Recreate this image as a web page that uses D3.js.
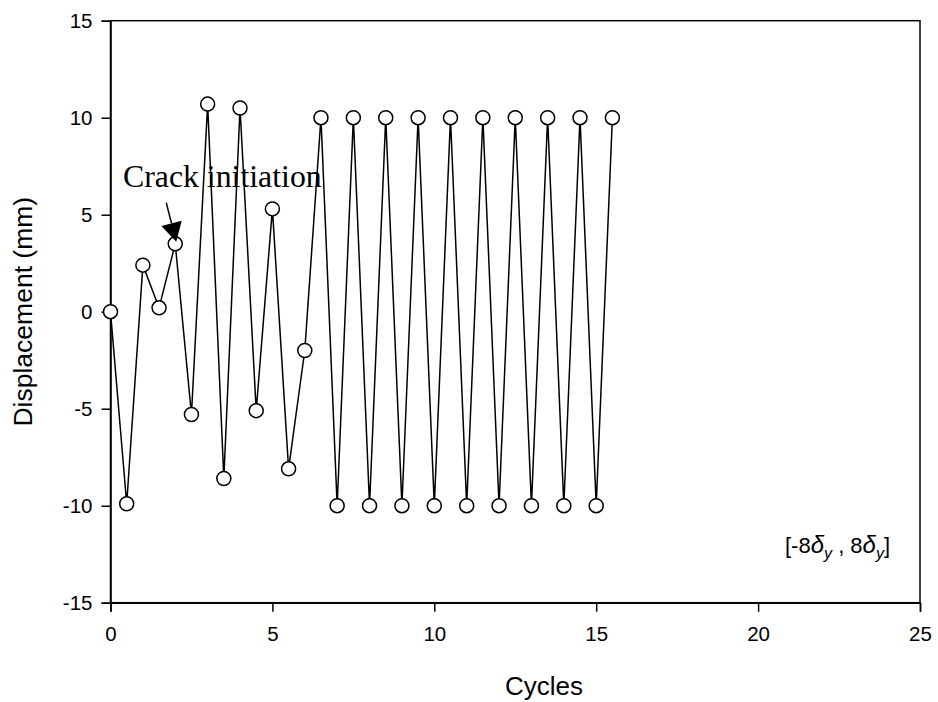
<!DOCTYPE html>
<html>
<head>
<meta charset="utf-8">
<script src="https://cdn.jsdelivr.net/npm/d3@7"></script>
<style>
  html, body { margin: 0; padding: 0; background: #fff; }
  svg { display: block; }
</style>
</head>
<body>
<svg id="chart" width="938" height="702"></svg>
<script>
// Loading history: displacement at each half cycle
const cycles = [0, 0.5, 1, 1.5, 2, 2.5, 3, 3.5, 4, 4.5, 5, 5.5, 6, 6.5, 7, 7.5, 8, 8.5, 9, 9.5,
                10, 10.5, 11, 11.5, 12, 12.5, 13, 13.5, 14, 14.5, 15, 15.5];
const displacement = [0, -9.9, 2.4, 0.2, 3.5, -5.3, 10.7, -8.6, 10.5, -5.1, 5.3, -8.1, -2.0, 10, -10, 10,
                      -10, 10, -10, 10, -10, 10, -10, 10, -10, 10, -10, 10, -10, 10, -10, 10];
const xTicks = [0, 5, 10, 15, 20, 25];
const yTicks = [-15, -10, -5, 0, 5, 10, 15];
const xDomain = [0, 25];
const yDomain = [-15, 15];
const crackCycle = 2;
const crackDisp = 3.5;

const svg = d3.select("#chart");
const plotLeft = 110.5, plotRight = 920, plotTop = 20.7, plotBottom = 602.7;

const x = d3.scaleLinear().domain(xDomain).range([plotLeft, plotRight]);
const y = d3.scaleLinear().domain(yDomain).range([plotBottom, plotTop]);

const points = cycles.map((c, i) => ({ c, d: displacement[i] }));
const plainNumber = d => String(d);   // hyphen-minus for negative ticks

// Frame
svg.append("rect")
  .attr("x", plotLeft).attr("y", plotTop)
  .attr("width", plotRight - plotLeft).attr("height", plotBottom - plotTop)
  .attr("fill", "none").attr("stroke", "#000").attr("stroke-width", 1.5);

// Axes
const xAxis = svg.append("g")
  .attr("transform", `translate(0,${plotBottom})`)
  .call(d3.axisBottom(x).tickValues(xTicks).tickFormat(plainNumber)
    .tickSizeOuter(0).tickSize(9).tickPadding(15));
const yAxis = svg.append("g")
  .attr("transform", `translate(${plotLeft},0)`)
  .call(d3.axisLeft(y).tickValues(yTicks).tickFormat(plainNumber)
    .tickSizeOuter(0).tickSize(9).tickPadding(9));

[xAxis, yAxis].forEach(g => {
  g.select(".domain").attr("stroke", "#000").attr("stroke-width", 1.5);
  g.selectAll(".tick line").attr("stroke", "#000").attr("stroke-width", 1.5);
  g.selectAll(".tick text")
    .attr("fill", "#000")
    .style("font-family", "'Liberation Sans', Arial, sans-serif")
    .style("font-size", "20.5px");
});

// Axis titles
svg.append("text")
  .attr("x", 544).attr("y", 695)
  .attr("text-anchor", "middle")
  .style("font-family", "'Liberation Sans', Arial, sans-serif")
  .style("font-size", "26px")
  .text("Cycles");

svg.append("text")
  .attr("transform", `translate(32,${(plotTop + plotBottom) / 2}) rotate(-90)`)
  .attr("text-anchor", "middle")
  .style("font-family", "'Liberation Sans', Arial, sans-serif")
  .style("font-size", "26.5px")
  .text("Displacement (mm)");

// Series line
svg.append("path")
  .datum(points)
  .attr("fill", "none")
  .attr("stroke", "#000")
  .attr("stroke-width", 1.5)
  .attr("d", d3.line().x(p => x(p.c)).y(p => y(p.d)));

// Markers
svg.append("g").selectAll("circle")
  .data(points)
  .join("circle")
  .attr("cx", p => x(p.c))
  .attr("cy", p => y(p.d))
  .attr("r", 7)
  .attr("fill", "#fff")
  .attr("stroke", "#000")
  .attr("stroke-width", 1.5);

// Crack initiation annotation
const tipX = x(crackCycle) + 1, tipY = y(crackDisp) - 2;
const startX = tipX - 10, startY = tipY - 39;
const ang = Math.atan2(tipY - startY, tipX - startX);
const headLen = 19, headHalf = 10.5;
const baseX = tipX - headLen * Math.cos(ang), baseY = tipY - headLen * Math.sin(ang);
svg.append("line")
  .attr("x1", startX).attr("y1", startY)
  .attr("x2", baseX).attr("y2", baseY)
  .attr("stroke", "#000").attr("stroke-width", 1.5);
svg.append("polygon")
  .attr("points", [
    [tipX, tipY],
    [baseX + headHalf * Math.sin(ang), baseY - headHalf * Math.cos(ang)],
    [baseX - headHalf * Math.sin(ang), baseY + headHalf * Math.cos(ang)]
  ].map(p => p.join(",")).join(" "))
  .attr("fill", "#000");

svg.append("text")
  .attr("x", 123).attr("y", 187)
  .style("font-family", "'Liberation Serif', 'Times New Roman', serif")
  .style("font-size", "31.8px")
  .text("Crack initiation");

// Displacement range label
const rangeLabel = svg.append("text")
  .attr("x", 785).attr("y", 553)
  .style("font-family", "'Liberation Sans', Arial, sans-serif")
  .style("font-size", "22px");
rangeLabel.append("tspan").text("[-8");
rangeLabel.append("tspan").style("font-style", "italic").style("font-size", "24px").text("δ");
rangeLabel.append("tspan").attr("dy", 6).style("font-style", "italic").style("font-size", "16px").text("y");
rangeLabel.append("tspan").attr("dy", -6).text(" , 8");
rangeLabel.append("tspan").style("font-style", "italic").style("font-size", "24px").text("δ");
rangeLabel.append("tspan").attr("dy", 6).style("font-style", "italic").style("font-size", "16px").text("y");
rangeLabel.append("tspan").attr("dy", -6).text("]");
</script>
</body>
</html>
